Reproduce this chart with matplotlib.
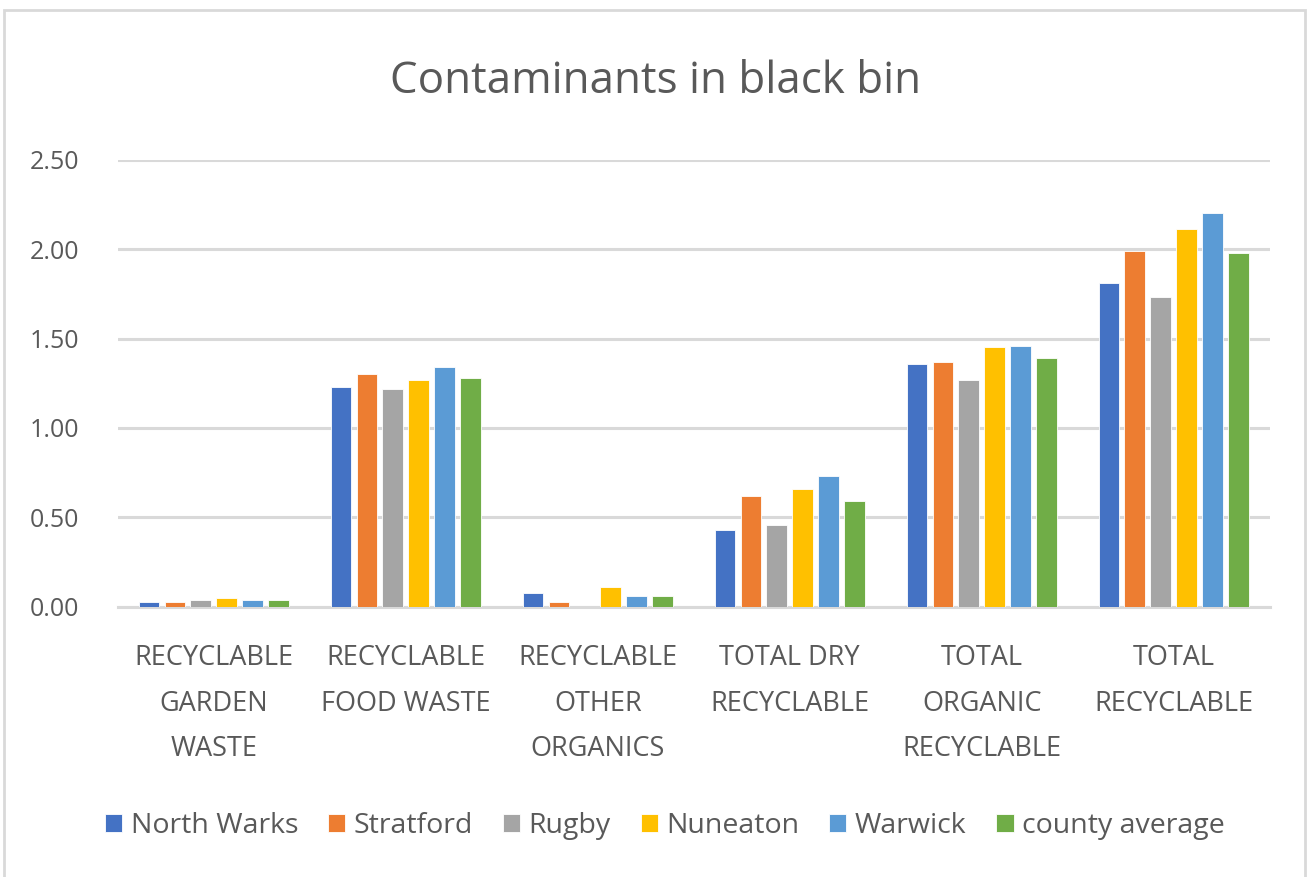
import numpy as np
import matplotlib.pyplot as plt
from matplotlib.patches import Rectangle

plt.rcParams['font.family'] = ['Open Sans', 'DejaVu Sans']

categories = ['RECYCLABLE\nGARDEN\nWASTE', 'RECYCLABLE\nFOOD WASTE', 'RECYCLABLE\nOTHER\nORGANICS',
              'TOTAL DRY\nRECYCLABLE', 'TOTAL\nORGANIC\nRECYCLABLE', 'TOTAL\nRECYCLABLE']

north_warks = [0.03, 1.23, 0.08, 0.43, 1.36, 1.81]
stratford = [0.03, 1.30, 0.03, 0.62, 1.37, 1.99]
rugby = [0.04, 1.22, 0.00, 0.46, 1.27, 1.73]
nuneaton = [0.05, 1.27, 0.11, 0.66, 1.45, 2.11]
warwick = [0.04, 1.34, 0.06, 0.73, 1.46, 2.20]
county_average = [0.04, 1.28, 0.06, 0.59, 1.39, 1.98]

series = [('North Warks', north_warks, '#4472C4'),
          ('Stratford', stratford, '#ED7D31'),
          ('Rugby', rugby, '#A5A5A5'),
          ('Nuneaton', nuneaton, '#FFC000'),
          ('Warwick', warwick, '#5B9BD5'),
          ('county average', county_average, '#70AD47')]

text_col = '#595959'

fig = plt.figure(figsize=(13.09, 8.77), dpi=100)
ax = fig.add_axes([0.090, 0.308, 0.880, 0.510])

x = np.arange(len(categories))
slot = 0.135
width = 0.108
for i, (name, vals, col) in enumerate(series):
    ax.bar(x + (i - 2.5) * slot, vals, width, color=col, label=name,
           edgecolor='white', linewidth=0.6, zorder=3)

ax.set_xlim(-0.5, len(categories) - 0.5)
ax.set_ylim(0, 2.5)
ax.set_yticks(np.arange(0, 2.51, 0.5))
ax.set_yticklabels([f'{v:.2f}' for v in np.arange(0, 2.51, 0.5)])
ax.yaxis.grid(True, color='#D9D9D9', linewidth=2.2, zorder=0)
ax.set_xticks(x)
ax.set_xticklabels(categories, linespacing=1.82, va='top')
ax.tick_params(axis='x', length=0, pad=27, labelsize=19.5, labelcolor=text_col)
ax.tick_params(axis='y', length=0, pad=28, labelsize=18, labelcolor=text_col)
for s in ax.spines.values():
    s.set_visible(False)
ax.spines['bottom'].set_visible(True)
ax.spines['bottom'].set_color('#D9D9D9')
ax.spines['bottom'].set_linewidth(2.2)

fig.text(0.501, 0.907, 'Contaminants in black bin', ha='center', va='center',
         fontsize=31.6, color=text_col)

fig.legend(loc='center', bbox_to_anchor=(0.508, 0.058), ncol=6, frameon=False,
           fontsize=20.5, handlelength=0.6, handleheight=0.6, handletextpad=0.3,
           columnspacing=1.05, labelcolor=text_col)

fig.patches.append(Rectangle((0.003, -0.01), 0.994, 0.999, transform=fig.transFigure,
                             fill=False, edgecolor='#D9D9D9', linewidth=2))

fig.savefig('out.png', dpi=100)
